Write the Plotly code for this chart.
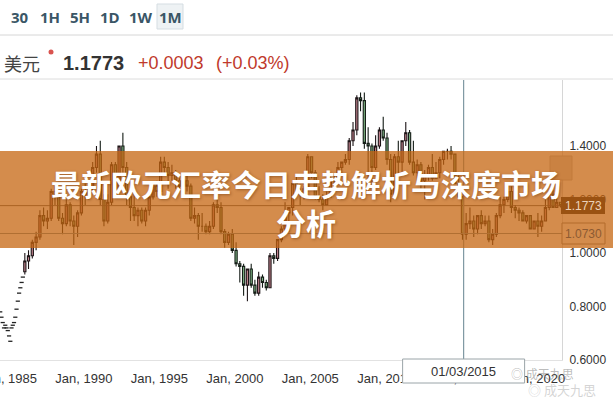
import plotly.graph_objects as go
import pandas as pd

# ---------------- data ----------------
# early sparse monthly points (Jun 1984 - Dec 1985)
early_values = [0.78, 0.76, 0.74, 0.72, 0.73, 0.72, 0.71, 0.69, 0.67, 0.72,
                0.73, 0.74, 0.76, 0.79, 0.82, 0.85, 0.87, 0.89, 0.91]
early_dates = pd.date_range("1984-06-01", periods=len(early_values), freq="MS") + pd.Timedelta(days=14)

# quarterly candles 1986Q1 - 2021Q3
q_open = [
    0.93, 0.97, 0.99, 1.04,   1.06, 1.14, 1.12, 1.13,   1.23, 1.21, 1.13, 1.11,   1.18, 1.12, 1.10, 1.15,
    1.23, 1.22, 1.24, 1.32,   1.37, 1.20, 1.12, 1.19,   1.33, 1.24, 1.40, 1.32,   1.21, 1.17, 1.14, 1.16,
    1.12, 1.16, 1.21, 1.25,   1.23, 1.34, 1.32, 1.29,   1.30, 1.27, 1.25, 1.27,   1.25, 1.13, 1.14, 1.10,
    1.10, 1.08, 1.10, 1.18,   1.17, 1.08, 1.04, 1.07,   1.01, 0.96, 0.95, 0.88,   0.94, 0.88, 0.85, 0.91,
    0.89, 0.87, 0.99, 0.98,   1.05, 1.09, 1.15, 1.17,   1.26, 1.23, 1.22, 1.24,   1.36, 1.30, 1.21, 1.20,
    1.18, 1.21, 1.28, 1.27,   1.32, 1.34, 1.35, 1.42,   1.46, 1.58, 1.57, 1.41,   1.40, 1.32, 1.40, 1.46,
    1.43, 1.35, 1.22, 1.36,   1.34, 1.42, 1.45, 1.34,   1.30, 1.33, 1.27, 1.29,   1.32, 1.28, 1.30, 1.35,
    1.38, 1.38, 1.37, 1.26,   1.21, 1.07, 1.11, 1.12,   1.09, 1.14, 1.11, 1.12,   1.05, 1.07, 1.14, 1.18,
    1.20, 1.23, 1.17, 1.16,   1.15, 1.12, 1.14, 1.09,   1.12, 1.10, 1.12, 1.17,   1.22, 1.17, 1.19,
]
q_high = [
    1.00, 1.01, 1.05, 1.08,   1.16, 1.17, 1.16, 1.24,   1.25, 1.22, 1.15, 1.20,   1.19, 1.14, 1.16, 1.24,
    1.26, 1.26, 1.34, 1.40,   1.42, 1.22, 1.22, 1.34,   1.34, 1.40, 1.45, 1.34,   1.24, 1.24, 1.17, 1.17,
    1.17, 1.22, 1.26, 1.27,   1.36, 1.36, 1.34, 1.33,   1.31, 1.28, 1.29, 1.29,   1.26, 1.17, 1.15, 1.15,
    1.11, 1.12, 1.19, 1.21,   1.19, 1.09, 1.08, 1.09,   1.04, 0.97, 0.96, 0.94,   0.96, 0.90, 0.93, 0.92,
    0.90, 1.00, 1.00, 1.05,   1.10, 1.19, 1.17, 1.26,   1.29, 1.24, 1.25, 1.37,   1.36, 1.31, 1.25, 1.22,
    1.23, 1.30, 1.29, 1.34,   1.34, 1.37, 1.43, 1.49,   1.59, 1.60, 1.60, 1.47,   1.41, 1.44, 1.47, 1.51,
    1.45, 1.37, 1.37, 1.42,   1.42, 1.49, 1.46, 1.42,   1.35, 1.34, 1.31, 1.33,   1.37, 1.34, 1.36, 1.38,
    1.39, 1.40, 1.37, 1.29,   1.21, 1.15, 1.17, 1.14,   1.14, 1.16, 1.14, 1.14,   1.09, 1.15, 1.21, 1.21,
    1.26, 1.25, 1.18, 1.17,   1.16, 1.14, 1.14, 1.12,   1.15, 1.14, 1.20, 1.23,   1.235, 1.22, 1.19,
]
q_low = [
    0.92, 0.94, 0.98, 1.01,   1.05, 1.10, 1.09, 1.12,   1.18, 1.12, 1.07, 1.10,   1.10, 1.03, 1.06, 1.14,
    1.18, 1.20, 1.23, 1.30,   1.18, 1.10, 1.11, 1.18,   1.22, 1.23, 1.30, 1.18,   1.12, 1.12, 1.10, 1.11,
    1.10, 1.14, 1.20, 1.21,   1.22, 1.29, 1.24, 1.27,   1.24, 1.23, 1.24, 1.23,   1.12, 1.11, 1.05, 1.08,
    1.07, 1.07, 1.09, 1.15,   1.07, 1.02, 1.03, 1.00,   0.95, 0.89, 0.84, 0.82,   0.87, 0.84, 0.84, 0.87,
    0.86, 0.87, 0.96, 0.97,   1.04, 1.07, 1.08, 1.14,   1.21, 1.18, 1.20, 1.23,   1.28, 1.20, 1.19, 1.16,
    1.18, 1.21, 1.25, 1.26,   1.29, 1.33, 1.33, 1.40,   1.44, 1.53, 1.39, 1.23,   1.25, 1.31, 1.39, 1.42,
    1.33, 1.19, 1.21, 1.29,   1.29, 1.40, 1.33, 1.29,   1.26, 1.24, 1.20, 1.27,   1.27, 1.28, 1.28, 1.33,
    1.35, 1.35, 1.26, 1.21,   1.05, 1.05, 1.09, 1.06,   1.07, 1.09, 1.10, 1.04,   1.03, 1.06, 1.13, 1.15,
    1.19, 1.15, 1.13, 1.12,   1.12, 1.11, 1.09, 1.09,   1.06, 1.08, 1.12, 1.16,   1.17, 1.17, 1.17,
]
q_close = [
    0.97, 0.99, 1.04, 1.06,   1.14, 1.12, 1.13, 1.23,   1.21, 1.13, 1.11, 1.18,   1.12, 1.10, 1.15, 1.23,
    1.22, 1.24, 1.32, 1.37,   1.20, 1.12, 1.19, 1.33,   1.24, 1.40, 1.32, 1.21,   1.17, 1.14, 1.16, 1.12,
    1.16, 1.21, 1.25, 1.23,   1.34, 1.32, 1.29, 1.30,   1.27, 1.25, 1.27, 1.25,   1.13, 1.14, 1.10, 1.10,
    1.08, 1.10, 1.18, 1.17,   1.08, 1.04, 1.07, 1.01,   0.96, 0.95, 0.88, 0.94,   0.88, 0.85, 0.91, 0.89,
    0.87, 0.99, 0.98, 1.05,   1.09, 1.15, 1.17, 1.26,   1.23, 1.22, 1.24, 1.36,   1.30, 1.21, 1.20, 1.18,
    1.21, 1.28, 1.27, 1.32,   1.34, 1.35, 1.42, 1.46,   1.58, 1.57, 1.41, 1.40,   1.32, 1.40, 1.46, 1.43,
    1.35, 1.22, 1.36, 1.34,   1.42, 1.45, 1.34, 1.30,   1.33, 1.27, 1.29, 1.32,   1.28, 1.30, 1.35, 1.38,
    1.38, 1.37, 1.26, 1.21,   1.07, 1.11, 1.12, 1.09,   1.14, 1.11, 1.12, 1.05,   1.07, 1.14, 1.18, 1.20,
    1.23, 1.17, 1.16, 1.15,   1.12, 1.14, 1.09, 1.12,   1.10, 1.12, 1.17, 1.22,   1.17, 1.19, 1.1773,
]
q_dates = pd.date_range("1986-02-01", periods=len(q_close), freq="3MS")

last_price = 1.1773
cross_price = 1.0730
cross_date = "2015-03-01"
y_ticks = [0.6, 0.8, 1.0, 1.2, 1.4]
toolbar_labels = ["30", "1H", "5H", "1D", "1W", "1M"]
title_text = "最新欧元汇率今日走势解析与深度市场<br>分析"

# ---------------- figure ----------------
W, H = 613, 400
ML, MR, MT, MB = 0, 51, 80, 40
PW, PH = W - ML - MR, H - MT - MB


def px(x):
    return (x - ML) / PW


def py(y):
    return (H - MB - y) / PH


fig = go.Figure()
fig.add_trace(go.Scatter(
    x=early_dates, y=early_values, mode="markers",
    marker=dict(symbol="line-ew", size=3, line=dict(width=1.3, color="#222222")),
    hoverinfo="skip"))
fig.add_trace(go.Candlestick(
    x=q_dates, open=q_open, high=q_high, low=q_low, close=q_close,
    increasing=dict(line=dict(color="#1c1416", width=1.1), fillcolor="#c4848f"),
    decreasing=dict(line=dict(color="#141c16", width=1.1), fillcolor="#7fb585"),
    whiskerwidth=0, hoverinfo="skip"))

shapes = []
# header separators
shapes.append(dict(type="line", xref="paper", yref="paper", x0=px(0), x1=px(W), y0=py(35), y1=py(35),
                   line=dict(color="#d6d6d6", width=1)))
shapes.append(dict(type="line", xref="paper", yref="paper", x0=px(0), x1=px(W), y0=py(79), y1=py(79),
                   line=dict(color="#dcdcdc", width=1)))
# active toolbar button
shapes.append(dict(type="rect", xref="paper", yref="paper", x0=px(157), x1=px(183), y0=py(29), y1=py(4),
                   fillcolor="#eef2f4", line=dict(color="#d5dde2", width=1)))
# red dot
shapes.append(dict(type="circle", xref="paper", yref="paper", x0=px(48.5), x1=px(53.5), y0=py(54.5), y1=py(49.5),
                   fillcolor="#d9534f", line=dict(width=0)))
# price line and horizontal crosshair
shapes.append(dict(type="line", xref="paper", yref="y", x0=0, x1=1, y0=last_price, y1=last_price,
                   line=dict(color="rgba(60,60,60,0.85)", width=1), layer="above"))
shapes.append(dict(type="line", xref="paper", yref="y", x0=0, x1=1, y0=cross_price, y1=cross_price,
                   line=dict(color="#6f8c98", width=1), layer="above"))
# vertical crosshair
shapes.append(dict(type="line", xref="x", yref="paper", x0=cross_date, x1=cross_date, y0=0, y1=1,
                   line=dict(color="#7f98a3", width=1.2), layer="above"))
# right-axis price boxes (under the banner)
shapes.append(dict(type="rect", xref="paper", yref="y", ysizemode="pixel", yanchor=last_price,
                   x0=px(561), x1=px(605), y0=-8.5, y1=8.5, fillcolor="#1a1a1a", line=dict(width=0), layer="above"))
shapes.append(dict(type="rect", xref="paper", yref="y", ysizemode="pixel", yanchor=cross_price,
                   x0=px(562), x1=px(605), y0=-10.5, y1=10.5, fillcolor="#ffffff",
                   line=dict(color="#7a7a7a", width=1), layer="above"))
# small button
shapes.append(dict(type="rect", xref="paper", yref="paper", x0=px(550), x1=px(572), y0=py(180), y1=py(156),
                   fillcolor="#d8d8d8", line=dict(color="#b8b8b8", width=1), layer="above"))
# banner
shapes.append(dict(type="rect", xref="paper", yref="paper", x0=px(0), x1=px(W), y0=py(248), y1=py(151),
                   fillcolor="rgba(198,102,16,0.75)", line=dict(width=0), layer="above"))
# date box for crosshair
shapes.append(dict(type="rect", xref="x", yref="paper", xsizemode="pixel", xanchor=cross_date,
                   x0=-61, x1=61, y0=py(383), y1=py(359), fillcolor="#ffffff",
                   line=dict(color="#9aa4a8", width=1), layer="above"))

annotations = []
tb_x = [20, 49.5, 80, 110, 140.5, 170]
for lab, xc in zip(toolbar_labels, tb_x):
    annotations.append(dict(text=lab, x=px(xc), y=py(17), xref="paper", yref="paper", showarrow=False,
                            xanchor="center", yanchor="middle",
                            font=dict(family="Open Sans", size=15, color="#3a5666", weight=700)))
annotations.append(dict(text="美元", x=px(2), y=py(63), xref="paper", yref="paper", showarrow=False,
                        xanchor="left", yanchor="middle",
                        font=dict(family="Noto Sans CJK SC", size=18, color="#444444")))
annotations.append(dict(text="1.1773", x=px(61), y=py(63), xref="paper", yref="paper", showarrow=False,
                        xanchor="left", yanchor="middle",
                        font=dict(family="Liberation Sans", size=20, color="#333333", weight=700)))
annotations.append(dict(text="+0.0003", x=px(136), y=py(63), xref="paper", yref="paper", showarrow=False,
                        xanchor="left", yanchor="middle",
                        font=dict(family="Liberation Sans", size=18, color="#c0392b")))
annotations.append(dict(text="(+0.03%)", x=px(214), y=py(63), xref="paper", yref="paper", showarrow=False,
                        xanchor="left", yanchor="middle",
                        font=dict(family="Liberation Sans", size=18, color="#c0392b")))
# price labels on the boxes (tinted by the banner)
annotations.append(dict(text="1.1773", x=px(583), y=last_price, xref="paper", yref="y", showarrow=False,
                        xanchor="center", yanchor="middle",
                        font=dict(family="Liberation Sans", size=12, color="#ecd2ba")))
annotations.append(dict(text="1.0730", x=px(583.5), y=cross_price, xref="paper", yref="y", showarrow=False,
                        xanchor="center", yanchor="middle",
                        font=dict(family="Liberation Sans", size=12, color="#8c5a32")))
annotations.append(dict(text="01/03/2015", x=cross_date, y=py(371), xref="x", yref="paper", showarrow=False,
                        xanchor="center", yanchor="middle",
                        font=dict(family="Liberation Sans", size=13, color="#333333")))
# banner title
annotations.append(dict(text=title_text, x=px(306), y=py(202), xref="paper", yref="paper", showarrow=False,
                        xanchor="center", yanchor="middle", align="center",
                        font=dict(family="Noto Sans CJK SC", size=30, color="#ffffff", weight=700,
                                  shadow="1px 1px 3px rgba(90,40,0,0.45)")))
# watermark
annotations.append(dict(text="◎ 成天九思", x=px(542), y=py(373), xref="paper", yref="paper", showarrow=False,
                        xanchor="center", yanchor="middle",
                        font=dict(family="Noto Sans CJK SC", size=12, color="rgba(130,130,130,0.55)")))
annotations.append(dict(text="◎ 成天九思", x=px(562), y=py(389), xref="paper", yref="paper", showarrow=False,
                        xanchor="center", yanchor="middle",
                        font=dict(family="Noto Sans CJK SC", size=13, color="rgba(170,170,170,0.5)")))

fig.update_layout(
    width=W, height=H,
    margin=dict(l=ML, r=MR, t=MT, b=MB, autoexpand=False),
    paper_bgcolor="#ffffff", plot_bgcolor="#ffffff",
    showlegend=False, hovermode=False, dragmode=False,
    boxgap=0.15,
    shapes=shapes, annotations=annotations,
    xaxis=dict(
        type="date", range=["1984-06-10", "2021-09-06"],
        rangeslider=dict(visible=False), automargin=False,
        showgrid=False, zeroline=False, showline=True, linecolor="#e2e2e2",
        tick0="1985-01-01", dtick="M60", tickformat="%b, %Y",
        ticks="outside", ticklen=6, tickcolor="rgba(0,0,0,0)",
        tickfont=dict(family="Liberation Sans", size=13, color="#333333"),
        ticklabeloverflow="allow", fixedrange=True),
    yaxis=dict(
        side="right", range=[0.6, 1.647], tickvals=y_ticks, tickformat=".4f",
        showgrid=False, zeroline=False, showline=True, linecolor="#d6d6d6",
        ticks="outside", ticklen=4, tickcolor="rgba(0,0,0,0)", automargin=False,
        tickfont=dict(family="Liberation Sans", size=12, color="#333333"),
        ticklabeloverflow="allow", fixedrange=True),
)

fig.write_html("out.html", config={"staticPlot": True},
               post_script="document.body.style.margin='0px';document.body.style.overflow='hidden';")
